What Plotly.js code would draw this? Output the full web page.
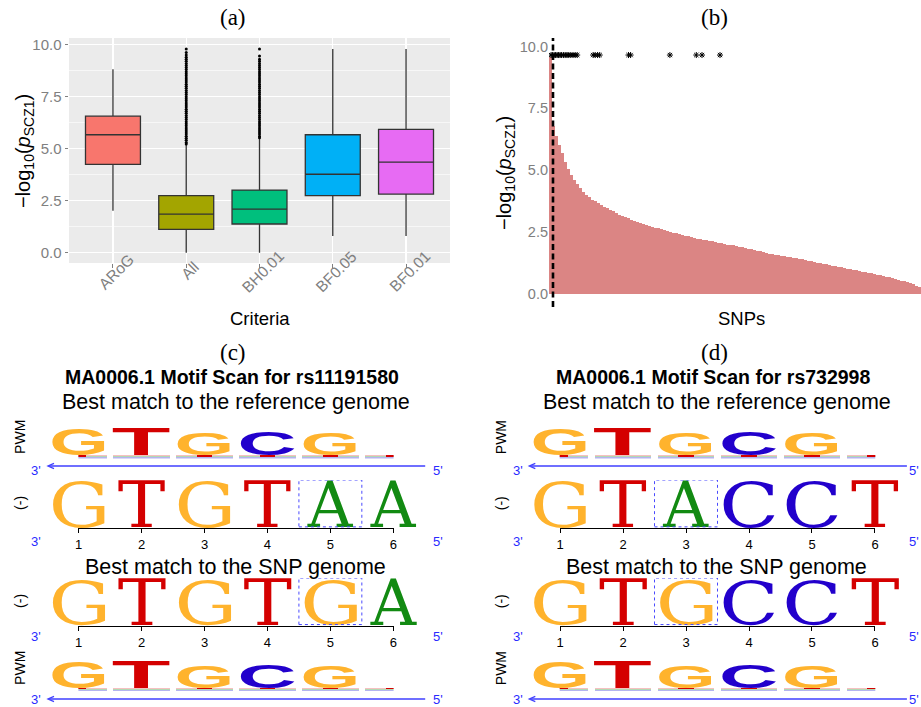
<!DOCTYPE html>
<html><head><meta charset="utf-8">
<script src="https://cdn.plot.ly/plotly-3.0.1.min.js"></script>
<style>html,body{margin:0;padding:0;background:#fff;}#chart{width:921px;height:707px;}</style>
</head><body><div id="chart"></div>
<script>
// ---------------- Panel (a): box plot ----------------
const criteria = ['ARoG', 'All', 'BH0.01', 'BF0.05', 'BF0.01'];
const boxColors = ['#F8766D', '#A3A500', '#00BF7D', '#00B0F6', '#E76BF3'];
const lowerWhisker = [2.02, 0.0, 0.0, 0.80, 0.80];
const q1Vals = [4.25, 1.12, 1.38, 2.74, 2.82];
const medianVals = [5.67, 1.85, 2.09, 3.77, 4.35];
const q3Vals = [6.56, 2.74, 3.01, 5.67, 5.93];
const upperWhisker = [8.82, 5.18, 5.50, 9.79, 9.79];
const outliersAll = [5.22,5.3,5.4,5.5,5.6,5.7,5.8,5.9,6.0,6.1,6.2,6.3,6.4,6.5,6.6,6.7,6.8,6.9,7.0,7.1,7.2,7.3,7.4,7.5,7.6,7.7,7.8,7.9,8.0,8.1,8.2,8.3,8.4,8.5,8.6,8.7,8.8,8.9,9.0,9.1,9.2,9.3,9.4,9.5,9.62,9.79];
const outliersBH = [5.52,5.6,5.7,5.8,5.9,6.0,6.1,6.2,6.3,6.4,6.5,6.6,6.7,6.8,6.9,7.0,7.1,7.2,7.3,7.4,7.5,7.6,7.7,7.8,7.9,8.0,8.1,8.2,8.3,8.4,8.5,8.6,8.7,8.8,8.9,9.0,9.1,9.2,9.3,9.45,9.79];
const yTicks = [0, 2.5, 5, 7.5, 10];

// ---------------- Panel (b): sorted SNP scores ----------------
const snpScores = [9.6,6.8,6.4,6.0,5.7,5.35,5.05,4.82,4.6,4.42,4.26,4.13,4.01,3.9,3.8,3.74,3.67,3.6,3.52,3.45,3.39,3.33,3.26,3.2,3.15,3.1,3.05,3.0,2.96,2.92,2.87,2.83,2.79,2.75,2.71,2.67,2.64,2.61,2.57,2.54,2.5,2.47,2.44,2.41,2.38,2.35,2.32,2.29,2.26,2.23,2.21,2.19,2.17,2.14,2.12,2.09,2.07,2.04,2.01,1.99,1.97,1.95,1.92,1.9,1.88,1.85,1.82,1.79,1.76,1.74,1.71,1.68,1.65,1.62,1.6,1.58,1.56,1.54,1.52,1.5,1.48,1.46,1.43,1.41,1.39,1.37,1.34,1.32,1.29,1.26,1.24,1.21,1.19,1.16,1.14,1.11,1.09,1.06,1.04,1.01,0.99,0.96,0.94,0.91,0.89,0.87,0.85,0.83,0.8,0.77,0.74,0.71,0.68,0.66,0.63,0.6,0.56,0.53,0.5,0.47,0.43,0.38,0.33,0.27];
const starIdx = [0.2,0.7,1.2,1.7,2.2,2.7,3.2,3.7,4.3,4.9,5.5,6.1,6.8,7.5,8.2,8.9,14.2,14.9,15.7,16.4,26.0,26.7,39.8,48.6,50.5,56.5];
const starY = 9.66;
const cutoffIdx = 0.83;

// ---------------- Panels (c), (d): motif scans ----------------
const positions = [1, 2, 3, 4, 5, 6];
const pwmMajor = ['G', 'T', 'G', 'C', 'G', ''];
const pwmMajorH = [0.84, 0.89, 0.68, 0.76, 0.68, 0];
const pwmMinorC = [0.035, 0.035, 0.035, 0.035, 0.035, 0.035];
const pwmMinorA = [0.035, 0.035, 0.035, 0.035, 0.035, 0.035];
const pwmMinorT = [0.035, 0.035, 0.035, 0.035, 0.035, 0.035];
const pwmStemT = [0.06, 0, 0.06, 0.06, 0.06, 0.06];
const motifC = {title: 'MA0006.1 Motif Scan for rs11191580', refSeq: ['G','T','G','T','A','A'], snpSeq: ['G','T','G','T','G','A'], snpPos: 5};
const motifD = {title: 'MA0006.1 Motif Scan for rs732998', refSeq: ['G','T','A','C','C','T'], snpSeq: ['G','T','G','C','C','T'], snpPos: 3};
const nucColor = {G: '#FFB32D', T: '#D40000', C: '#2200CC', A: '#128A12'};

// ---------------- helpers ----------------
const W = 921, H = 707;
const fx = px => px / W;
const fy = px => 1 - px / H;
const SANS = 'Liberation Sans, Arial, sans-serif';
const SERIF = 'Liberation Serif, Times New Roman, serif';
const GRAY = '#808080';

const traces = [];
const shapes = [];
const annotations = [];
const fitSpecs = {};

// ---- (a)
criteria.forEach((c, i) => {
  traces.push({
    type: 'box', x: [c], q1: [q1Vals[i]], median: [medianVals[i]], q3: [q3Vals[i]],
    lowerfence: [lowerWhisker[i]], upperfence: [upperWhisker[i]],
    fillcolor: boxColors[i], line: {color: '#333333', width: 1.3},
    whiskerwidth: 0, width: 0.75, boxpoints: false,
    xaxis: 'x', yaxis: 'y', showlegend: false, hoverinfo: 'skip'
  });
});
[['All', outliersAll], ['BH0.01', outliersBH]].forEach(([c, vals]) => {
  traces.push({
    type: 'scatter', mode: 'markers', x: vals.map(() => c), y: vals,
    marker: {color: '#000000', size: 3}, xaxis: 'x', yaxis: 'y', showlegend: false, hoverinfo: 'skip'
  });
});
shapes.push({type: 'rect', xref: 'x domain', yref: 'y domain', x0: 0, x1: 1, y0: 0, y1: 1,
  fillcolor: '#EBEBEB', line: {width: 0}, layer: 'below'});

// ---- (b)
traces.push({
  type: 'bar', x: snpScores.map((v, i) => i), y: snpScores,
  marker: {color: '#DB8584', line: {width: 0}},
  xaxis: 'x2', yaxis: 'y2', showlegend: false, hoverinfo: 'skip'
});
traces.push({
  type: 'scatter', mode: 'markers', x: starIdx, y: starIdx.map(() => starY),
  marker: {symbol: 'asterisk-open', size: 5, color: '#000', line: {width: 1, color: '#000'}},
  xaxis: 'x2', yaxis: 'y2', showlegend: false, hoverinfo: 'skip'
});
shapes.push({type: 'line', xref: 'x2', yref: 'y2 domain', x0: cutoffIdx, x1: cutoffIdx, y0: 0, y1: 1,
  line: {color: '#000', width: 2.6, dash: '6px,3.5px'}});

// ---- motif geometry
const ROWS = {pwmRef: [427.5, 458.5], seqRef: [480, 528.3], seqSnp: [578, 626], pwmSnp: [660, 691]};
const PWM_W = {G: 0.87, T: 0.95, C: 0.87, A: 0.9};
const SEQ_W = {G: 0.84, T: 0.76, A: 0.75, C: 0.83};
const CAP_SANS = 0.716, CAP_SERIF = 0.729;

function pwmRow(xa, ya, rowPx, colPx) {
  const baseA = pwmMinorC.slice();
  const baseT = pwmMinorC.map((c, i) => c + pwmMinorA[i]);
  const majorBase = baseT.map((b, i) => b + pwmMinorT[i]);
  const common = {type: 'bar', x: positions, xaxis: xa, yaxis: ya, cliponaxis: false, showlegend: false, hoverinfo: 'skip'};
  traces.push(Object.assign({}, common, {y: pwmMinorC, base: positions.map(() => 0), width: 0.9, marker: {color: '#b4b4f0', line: {width: 0}}}));
  traces.push(Object.assign({}, common, {y: pwmMinorA, base: baseA, width: 0.9, marker: {color: '#b2d8b2', line: {width: 0}}}));
  traces.push(Object.assign({}, common, {y: pwmMinorT, base: baseT, width: 0.9, marker: {color: '#f6c0c0', line: {width: 0}}}));
  traces.push(Object.assign({}, common, {y: pwmStemT, base: pwmMinorC.map(v => v + 0.015), width: 0.24, marker: {color: nucColor.T, line: {width: 0}}}));
  const idx = positions.map((p, i) => i).filter(i => pwmMajorH[i] > 0);
  const fs = idx.map(i => pwmMajorH[i] * rowPx / CAP_SANS);
  traces.push({
    type: 'scatter', mode: 'text', x: idx.map(i => positions[i]),
    y: idx.map((i, k) => majorBase[i] + 0.25 * fs[k] / rowPx),
    text: idx.map(i => pwmMajor[i]), textposition: 'middle center',
    textfont: {family: 'Liberation Sans', size: fs, color: idx.map(i => nucColor[pwmMajor[i]]), weight: 'bold'},
    xaxis: xa, yaxis: ya, cliponaxis: false, showlegend: false, hoverinfo: 'skip'
  });
  fitSpecs[xa + ya] = idx.map((i, k) => ({w: PWM_W[pwmMajor[i]] * colPx, h: pwmMajorH[i] * rowPx, family: 'Liberation Sans', weight: 'bold', fs: fs[k]}));
}
function seqRow(xa, ya, seq, snpPos, rowPx, colPx) {
  const base = 0.03, hFrac = 0.97;
  const fs = hFrac * rowPx / CAP_SERIF;
  traces.push({
    type: 'scatter', mode: 'text', x: positions, y: positions.map(() => base + 0.25 * fs / rowPx),
    text: seq, textposition: 'middle center',
    textfont: {family: 'DejaVu Serif', size: fs, color: seq.map(s => nucColor[s])},
    xaxis: xa, yaxis: ya, cliponaxis: false, showlegend: false, hoverinfo: 'skip'
  });
  fitSpecs[xa + ya] = seq.map(s => ({w: SEQ_W[s] * colPx, h: hFrac * rowPx, family: 'DejaVu Serif', weight: 'normal', fs: fs}));
  shapes.push({type: 'rect', xref: xa, yref: ya, x0: snpPos - 0.5, x1: snpPos + 0.5, y0: base, y1: 1.0,
    line: {color: '#4a4aff', width: 1, dash: 'dot'}, fillcolor: 'rgba(0,0,0,0)'});
}

const layout = {
  width: W, height: H, margin: {l: 0, r: 0, t: 0, b: 0},
  paper_bgcolor: '#ffffff', plot_bgcolor: 'rgba(0,0,0,0)',
  showlegend: false, hovermode: false, barmode: 'overlay', bargap: 0, boxmode: 'overlay',
  font: {family: SANS, color: '#000'},
  xaxis: {domain: [fx(69), fx(450)], anchor: 'y', type: 'category', categoryorder: 'array', categoryarray: criteria,
    range: [-0.6, 4.6], showgrid: true, gridcolor: '#ffffff', gridwidth: 1.2, zeroline: false, showline: false,
    ticks: 'outside', ticklen: 3.5, tickcolor: '#808080', showticklabels: false},
  yaxis: {domain: [fy(263), fy(38)], anchor: 'x', range: [-0.495, 10.32], tickvals: yTicks, tickformat: '.1f',
    showgrid: true, gridcolor: '#ffffff', gridwidth: 1.2, zeroline: false, showline: false,
    minor: {dtick: 1.25, tick0: 0, showgrid: true, gridcolor: '#ffffff', gridwidth: 0.6, ticks: ''},
    ticks: 'outside', ticklen: 3.5, tickcolor: '#808080', tickfont: {size: 15, color: GRAY}},
  xaxis2: {domain: [fx(549), 1], anchor: 'y2', range: [-0.5, snpScores.length - 0.5], showgrid: false,
    zeroline: false, showline: false, ticks: '', showticklabels: false},
  yaxis2: {domain: [fy(307), fy(38)], anchor: 'x2', range: [-0.54, 10.35], tickvals: yTicks, tickformat: '.1f',
    showgrid: false, zeroline: false, showline: false, ticks: '', tickfont: {size: 14.5, color: GRAY}},
  shapes: shapes, annotations: annotations
};

function ann(text, xpx, ypx, o) {
  annotations.push(Object.assign({text: text, x: fx(xpx), y: fy(ypx), xref: 'paper', yref: 'paper',
    showarrow: false, xanchor: 'center', yanchor: 'middle', font: {size: 14, color: '#000', family: SANS}}, o || {}));
}

// rotated category labels of panel (a), centred under their ticks (as ggplot does)
criteria.forEach(c => {
  annotations.push({text: c, x: c, xref: 'x', y: fy(c.length < 4 ? 270 : 271.5), yref: 'paper', xshift: 3.5,
    textangle: -45, showarrow: false, xanchor: 'center', yanchor: 'middle', font: {size: 15.5, color: GRAY, family: SANS}});
});

function motifPanel(m, xa, xb, ys, x0px, x1px, cx, rightLabelX) {
  const n = xa.replace('x', ''), nb = xb.replace('x', '');
  const yn = ys.map(y => y.replace('y', ''));
  const span = [0.995, 6.005];
  const colPx = (x1px - x0px) / (span[1] - span[0]);
  const axX = (anchor) => ({domain: [fx(x0px), fx(x1px)], anchor: anchor, range: span, tickvals: positions,
    ticktext: positions.map(String), showgrid: false, zeroline: false, showline: true, linecolor: '#000', linewidth: 1,
    ticks: 'outside', ticklen: 4, tickcolor: '#000', tickwidth: 1, tickfont: {size: 13, color: '#000'}});
  layout['xaxis' + n] = axX(ys[1]);
  layout['xaxis' + nb] = axX(ys[2]);
  const rowKeys = ['pwmRef', 'seqRef', 'seqSnp', 'pwmSnp'];
  ys.forEach((y, k) => {
    const r = ROWS[rowKeys[k]];
    layout['yaxis' + yn[k]] = {domain: [fy(r[1]), fy(r[0])], anchor: (k < 2 ? xa : xb), range: [0, 1], visible: false, fixedrange: true};
  });
  const rh = k => ROWS[rowKeys[k]][1] - ROWS[rowKeys[k]][0];
  pwmRow(xa, ys[0], rh(0), colPx);
  seqRow(xa, ys[1], m.refSeq, m.snpPos, rh(1), colPx);
  seqRow(xb, ys[2], m.snpSeq, m.snpPos, rh(2), colPx);
  pwmRow(xb, ys[3], rh(3), colPx);

  // texts
  ann(m.title, cx - 1, 377, {font: {size: 19.5, family: SANS, weight: 'bold', color: '#000'}});
  ann('Best match to the reference genome', cx + 2.5, 402, {font: {size: 21.5, family: SANS, color: '#000'}});
  ann('Best match to the SNP genome', cx + 2.5, 566.7, {font: {size: 21.5, family: SANS, color: '#000'}});
  const lx = x0px - 58.5;
  ann('PWM', lx, 437, {textangle: -90, font: {size: 14, family: SANS, color: '#000'}});
  ann('PWM', lx, 668, {textangle: -90, font: {size: 14, family: SANS, color: '#000'}});
  ann('(-)', lx, 503, {textangle: -90, font: {size: 14, family: SANS, color: '#000'}});
  ann('(-)', lx, 601, {textangle: -90, font: {size: 14, family: SANS, color: '#000'}});
  const blue = {size: 13, family: SANS, color: '#2a2aff'};
  [470, 541, 636, 699].forEach(yy => {
    ann("3'", x0px - 42, yy, {font: blue});
    ann("5'", rightLabelX, yy, {font: blue});
  });
  // 5' -> 3' arrows
  const hx = x0px - 30.4, tx = x1px + 31.6;
  [466, 699].forEach(yy => {
    shapes.push({type: 'line', xref: 'paper', yref: 'paper', x0: fx(hx + 1), x1: fx(tx), y0: fy(yy), y1: fy(yy),
      line: {color: '#3f3fff', width: 1.4}});
    shapes.push({type: 'path', xref: 'paper', yref: 'paper',
      path: 'M' + fx(hx + 6) + ',' + fy(yy - 2.6) + ' L' + fx(hx) + ',' + fy(yy) + ' L' + fx(hx + 6) + ',' + fy(yy + 2.6),
      line: {color: '#3f3fff', width: 1.3}});
  });
}

motifPanel(motifC, 'x3', 'x4', ['y3', 'y4', 'y5', 'y6'], 78.4, 393.6, 233, 438);
motifPanel(motifD, 'x5', 'x6', ['y7', 'y8', 'y9', 'y10'], 559.7, 875.3, 714.3, 914);

// panel letters and axis titles
ann('(a)', 233, 18, {font: {size: 23, family: SERIF, color: '#000'}});
ann('(b)', 714, 18, {font: {size: 23, family: SERIF, color: '#000'}});
ann('(c)', 233, 352, {font: {size: 23, family: SERIF, color: '#000'}});
ann('(d)', 714, 352, {font: {size: 23, family: SERIF, color: '#000'}});
ann('−log<sub>10</sub>(<i>p</i><sub>SCZ1</sub>)', 25, 151, {textangle: -90, font: {size: 20, family: SANS, color: '#000'}});
ann('Criteria', 260, 318, {font: {size: 18.5, family: SANS, color: '#000'}});
ann('−log<sub>10</sub>(<i>p</i><sub>SCZ1</sub>)', 505, 173, {textangle: -90, font: {size: 20, family: SANS, color: '#000'}});
ann('SNPs', 741, 318, {font: {size: 18.5, family: SANS, color: '#000'}});

function fitLetters(gd) {
  const canvas = document.createElement('canvas');
  const ctx = canvas.getContext('2d');
  ctx.textAlign = 'center';
  ctx.textBaseline = 'alphabetic';
  Object.keys(fitSpecs).forEach(sp => {
    const specs = fitSpecs[sp];
    const groups = gd.querySelectorAll('g.subplot.' + sp + ' g.scatterlayer g.textpoint');
    groups.forEach((g, k) => {
      const t = g.querySelector('text');
      const s = specs[k];
      if (!t || !s) return;
      ctx.font = s.weight + ' ' + s.fs + 'px "' + s.family + '"';
      const m = ctx.measureText(t.textContent);
      const L = m.actualBoundingBoxLeft, R = m.actualBoundingBoxRight;
      const A = m.actualBoundingBoxAscent, D = Math.max(0, m.actualBoundingBoxDescent);
      if (!(L + R > 0) || !(A + D > 0)) return;
      const sx = s.w / (L + R), sy = s.h / (A + D);
      const c = (R - L) / 2;
      const x = parseFloat(t.getAttribute('x')), y = parseFloat(t.getAttribute('y'));
      t.setAttribute('transform', 'translate(' + (x - sx * c) + ',' + y + ') scale(' + sx + ',' + sy + ') translate(' + (-x) + ',' + (-y) + ')');
    });
  });
}

const gd = document.getElementById('chart');
Plotly.newPlot(gd, traces, layout, {staticPlot: true, displayModeBar: false}).then(() => {
  try { fitLetters(gd); } catch (e) { console.error(e); }
});
</script>
</body></html>
